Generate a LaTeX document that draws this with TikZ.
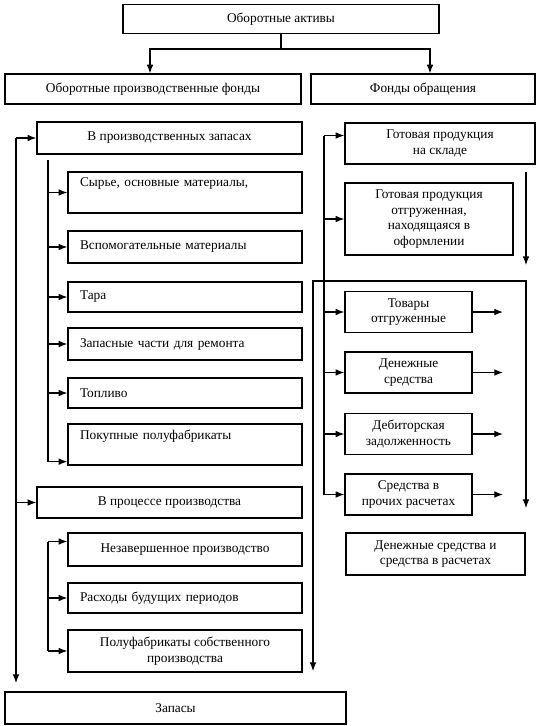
\documentclass[tikz,border=0pt]{standalone}
\usepackage{fontspec}
\setmainfont{Liberation Serif}
\usetikzlibrary{arrows.meta,positioning}
\tikzset{
  basic/.style  = {draw, rectangle, line width=1pt, inner sep=0pt, align=center,
                   font=\fontsize{10pt}{11.6pt}\selectfont},
  fund/.style   = {basic, minimum height=22.5pt},
  group/.style  = {basic, minimum width=198.75pt, minimum height=24pt},
  item/.style   = {basic, align=left, text width=157.5pt, inner xsep=9pt,
                   minimum height=23pt},
  itemc/.style  = {basic, minimum width=175.5pt, minimum height=24pt},
  asset/.style  = {basic, minimum width=95.25pt, minimum height=30.75pt},
  link/.style   = {line width=0.85pt}
}

\begin{document}
\begin{tikzpicture}[x=0.75pt, y=-0.75pt, >={Latex[length=6.5pt,width=5pt]}]
	  \useasboundingbox (0,0) rectangle (539,726);

	  % top of the scheme
	  \node[fund, minimum width=237pt, minimum height=21.75pt] (top) at (281,19) {Оборотные активы};
	  \node[fund, minimum width=222pt] (prod) at (153,89) {Оборотные производственные фонды};
	  \node[fund, minimum width=168pt] (circ) at (423,89) {Фонды обращения};

	  % left branch, production funds
	  \node[group] (stock) at (169.5,138) {В производственных запасах};
	  \node[item, minimum height=30.75pt] (s1) at (185,192.5) {Сырье, основные материалы,\\\strut};
	  \node[item, minimum height=24pt] (s2) at (185,247) {Вспомогательные материалы};
	  \node[item, minimum height=22.5pt] (s3) at (185,297) {Тара};
	  \node[item, minimum height=24pt] (s4) at (185,344) {Запасные части для ремонта};
	  \node[item, minimum height=22.5pt] (s5) at (185,393) {Топливо};
	  \node[item, minimum height=30.75pt] (s6) at (185,444.5) {Покупные полуфабрикаты\\\strut};

	  \node[group, minimum height=23.25pt] (proc) at (169.5,502.5) {В процессе производства};
	  \node[itemc, minimum height=24.75pt] (p1) at (185,549.5) {Незавершенное производство};
	  \node[item, minimum height=22.5pt] (p2) at (185,598) {Расходы будущих периодов};
	  \node[itemc, minimum height=31.5pt] (p3) at (185,651) {Полуфабрикаты собственного\\ производства};

	  \node[basic, minimum width=255.75pt, minimum height=24pt] (stocks) at (175.5,708) {Запасы};

	  % right branch, circulation funds
	  \node[basic, minimum width=142.5pt, minimum height=30.75pt] (r1) at (440,143.5)
	  {Готовая продукция\\ на складе};
	  \node[basic, minimum width=126pt, minimum height=54pt] (r2) at (429,219)
	  {Готовая продукция\\ отгруженная,\\ находящаяся в\\ оформлении};
	  \node[asset] (t1) at (408.5,312) {Товары\\ отгруженные};
	  \node[asset] (t2) at (408.5,372.5) {Денежные\\ средства};
	  \node[asset] (t3) at (408.5,434) {Дебиторская\\ задолженность};
	  \node[asset] (t4) at (408.5,494.5) {Средства в\\ прочих расчетах};
	  \node[basic, minimum width=134.25pt, minimum height=31.5pt] (t5) at (435.5,554)
	  {Денежные средства и\\ средства в расчетах};

	  % split from the top box
	  \coordinate (split) at (281,49);
	  \draw[link] (top.south) -- (split);
	  \draw[link,->] (split) -| ([xshift=-2.25pt]prod.north);
	  \draw[link,->] (split) -| ([xshift=5.25pt]circ.north);

	  % outer line on the left
	  \coordinate (lbus) at (16,138);
	  \coordinate (lbus end) at (16,683);
	  \draw[link,->] (lbus) -- (stock.west);
	  \draw[link,->] (lbus) -- (lbus end);
	  \draw[link,->] (lbus |- proc.west) -- (proc.west);

	  % inner lines on the left
	  \coordinate (ibus) at (48,160);
	  \coordinate (s6in) at ([yshift=3pt]s6.south west);
	  \draw[link] (ibus) -- (ibus |- s6in);
	  \draw[link,->] (ibus |- s6in) -- (s6in);
	  \foreach \n in {s1,s2,s3,s4,s5}
		\draw[link,->] (ibus |- \n.west) -- (\n.west);

	  \coordinate (p1in) at ([yshift=6pt]p1.west);
	  \draw[link,->] (ibus |- p1in) -- (p1in);
	  \draw[link] (ibus |- p1in) -- (ibus |- p3.west);
	  \foreach \n in {p2,p3}
		\draw[link,->] (ibus |- \n.west) -- (\n.west);

	  % line on the right
	  \coordinate (rbus) at (324,135);
	  \coordinate (r1in) at ([yshift=6pt]r1.west);
	  \draw[link,->] (rbus |- r1in) -- (r1in);
	  \draw[link] (rbus |- r1in) -- (rbus |- t4.west);
	  \foreach \n in {r2,t1,t2,t3,t4}
		\draw[link,->] (rbus |- \n.west) -- (\n.west);

	  \coordinate (outx) at (503,0);
	  \foreach \n in {t1,t2,t3,t4}
		\draw[link,->] (\n.east) -- (\n.east -| outx);

	  % frame round the assets
	  \coordinate (rdrop) at (526,172);
	  \coordinate (rdrop end) at (526,265);
	  \draw[link,->] (rdrop) -- (rdrop end);
	  \coordinate (fl) at (313,671);
	  \coordinate (fc) at (526,281);
	  \coordinate (fr) at (526,508);
	  \draw[link,<->] (fl) |- (fc) -- (fr);

\end{tikzpicture}
\end{document}
